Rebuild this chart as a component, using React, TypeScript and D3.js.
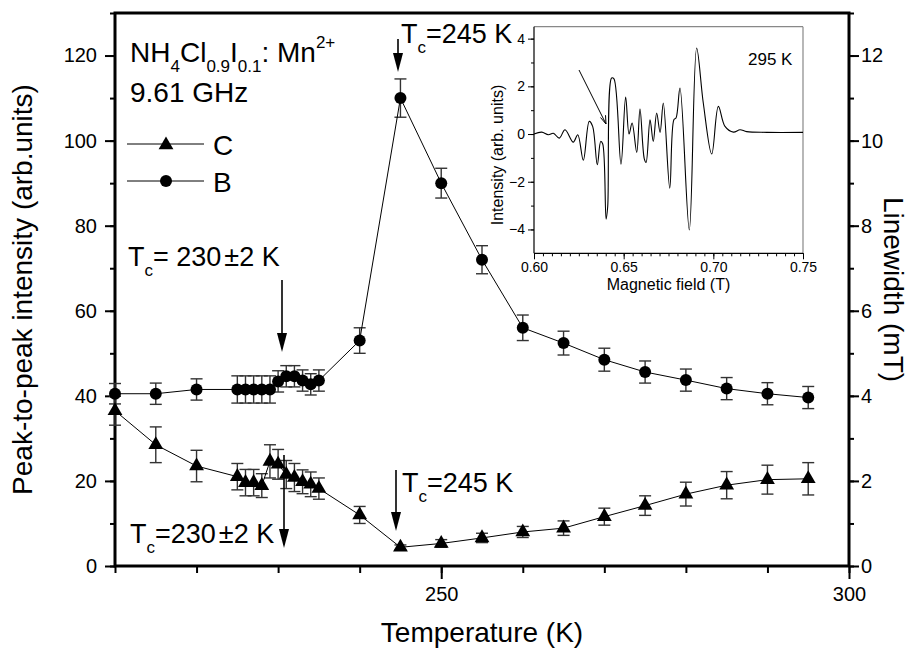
import React, { useEffect, useRef } from 'react';
import * as d3 from 'd3';

// temperatures (K), same grid for both series
const temps = [210, 215, 220, 225, 226, 227, 228, 229, 230, 231, 232, 233, 234, 235, 240, 245, 250, 255, 260, 265, 270, 275, 280, 285, 290, 295];

// B line (circles)
const intB = [40.5, 40.5, 41.5, 41.5, 41.5, 41.5, 41.5, 41.5, 43.4, 44.6, 44.6, 43.6, 42.7, 43.6, 53, 110, 90, 72, 56, 52.4, 48.5, 45.6, 43.7, 41.7, 40.5, 39.6];
const errB = [2.4, 2.5, 2.5, 3.2, 3.2, 3.2, 3.2, 3.2, 2.5, 2.5, 2.5, 2.5, 2.5, 2.5, 3, 4.5, 3.5, 3.3, 3, 2.8, 2.7, 2.6, 2.6, 2.6, 2.6, 2.6];

// C line (triangles)
const intC = [36.5, 28.5, 23.5, 21, 19.6, 19.6, 18.9, 24.6, 23.9, 21.5, 20.8, 19.8, 19.2, 18.2, 12, 4.4, 5.3, 6.6, 8.0, 8.9, 11.6, 14.2, 16.9, 19, 20.3, 20.5];
const errC = [3.4, 4.2, 3.7, 3.1, 3.1, 3.1, 2.8, 3.9, 3.5, 3.3, 3.3, 2.8, 2.9, 2.5, 2, 0.55, 0.9, 1.1, 1.3, 1.7, 2, 2.3, 2.8, 3.2, 3.4, 3.8];

// inset spectrum at 295 K
const field = [0.600, 0.6043, 0.608, 0.6108, 0.6141, 0.6173, 0.6219, 0.6244, 0.6275, 0.6308, 0.6327, 0.6353, 0.6372, 0.6383, 0.6402, 0.6411, 0.6433, 0.6446, 0.6485, 0.6511, 0.653, 0.6547, 0.6573, 0.6591, 0.6615, 0.6625, 0.6647, 0.6665, 0.6684, 0.6703, 0.6721, 0.6757, 0.678, 0.6792, 0.6814, 0.6866, 0.6907, 0.6944, 0.6991, 0.7028, 0.7065, 0.7112, 0.7149, 0.7186, 0.73, 0.75];
const spectrum = [0, 0.08, -0.03, 0.03, -0.17, 0.18, -0.34, -0.03, -1.1, 0.53, 0.32, -1.29, -0.31, -0.41, -3.57, -3.04, 2.35, 2.31, -1.26, 1.55, 0, 0.46, -0.77, 1.05, -1.04, -1.19, 0.6, -0.31, 0.88, 0.07, 1.3, -2.27, 0.6, 0.67, 1.93, -4.02, 3.61, 1.3, -0.84, 1.16, 0.32, 0.08, 0.18, 0.1, 0.07, 0.07];

const xMajor = [250, 300];
const yMajor = [0, 20, 40, 60, 80, 100, 120];
const rMajor = [0, 2, 4, 6, 8, 10, 12];
const insetXMajor = [0.60, 0.65, 0.70, 0.75];
const insetYMajor = [-4, -2, 0, 2, 4];

const W = 915, H = 649;
const FONT = '"Liberation Sans", Arial, Helvetica, sans-serif';

const App = () => {
  const svgRef = useRef(null);

  useEffect(() => {
    const svg = d3.select(svgRef.current);
    svg.selectAll('*').remove();
    const margin = { top: 13, right: 66, bottom: 83, left: 115 };

    const x = d3.scaleLinear().domain([210, 300]).range([margin.left, W - margin.right]);
    const y = d3.scaleLinear().domain([0, 130]).range([H - margin.bottom, margin.top]);
    const yR = d3.scaleLinear().domain([0, 13]).range([H - margin.bottom, margin.top]);

    svg.append('rect').attr('width', W).attr('height', H).attr('fill', 'white');

    const styleAxis = (g, sw) => {
      g.select('.domain').remove();
      g.selectAll('line').attr('stroke', '#000').attr('stroke-width', sw);
      g.selectAll('text').attr('font-family', FONT).attr('fill', '#000');
    };

    // bottom axis
    svg.append('g').attr('transform', `translate(0,${y(0)})`)
      .call(d3.axisBottom(x).tickValues(d3.range(210, 301, 10)).tickSize(7).tickFormat(() => ''))
      .call(g => styleAxis(g, 2));
    svg.append('g').attr('transform', `translate(0,${y(0)})`)
      .call(d3.axisBottom(x).tickValues(xMajor).tickSize(13).tickPadding(8).tickFormat(d3.format('d')))
      .call(g => styleAxis(g, 2))
      .selectAll('text').attr('font-size', 20);

    // left axis
    svg.append('g').attr('transform', `translate(${x(210)},0)`)
      .call(d3.axisLeft(y).tickValues(d3.range(0, 131, 10)).tickSize(5).tickFormat(() => ''))
      .call(g => styleAxis(g, 2));
    svg.append('g').attr('transform', `translate(${x(210)},0)`)
      .call(d3.axisLeft(y).tickValues(yMajor).tickSize(10).tickPadding(8).tickFormat(d3.format('d')))
      .call(g => styleAxis(g, 2))
      .selectAll('text').attr('font-size', 20);

    // right axis
    svg.append('g').attr('transform', `translate(${x(300)},0)`)
      .call(d3.axisRight(yR).tickValues(d3.range(0, 14, 1)).tickSize(5).tickFormat(() => ''))
      .call(g => styleAxis(g, 2));
    svg.append('g').attr('transform', `translate(${x(300)},0)`)
      .call(d3.axisRight(yR).tickValues(rMajor).tickSize(10).tickPadding(2).tickFormat(d3.format('d')))
      .call(g => styleAxis(g, 2))
      .selectAll('text').attr('font-size', 20);

    // frame
    svg.append('rect')
      .attr('x', x(210)).attr('y', y(130))
      .attr('width', x(300) - x(210)).attr('height', y(0) - y(130))
      .attr('fill', 'none').attr('stroke', '#000').attr('stroke-width', 3);

    // axis titles
    svg.append('text').attr('x', (x(210) + x(300)) / 2).attr('y', 642)
      .attr('text-anchor', 'middle').attr('font-family', FONT).attr('font-size', 28)
      .text('Temperature (K)');
    svg.append('text').attr('transform', `translate(32,${(y(0) + y(130)) / 2}) rotate(-90)`)
      .attr('text-anchor', 'middle').attr('font-family', FONT).attr('font-size', 28)
      .text('Peak-to-peak intensity (arb.units)');
    svg.append('text').attr('transform', `translate(884,${(y(0) + y(130)) / 2}) rotate(90)`)
      .attr('text-anchor', 'middle').attr('font-family', FONT).attr('font-size', 28)
      .text('Linewidth (mT)');

    // error bars
    const drawErr = (vals, errs) => {
      const g = svg.append('g').attr('stroke', '#333').attr('stroke-width', 1.4);
      temps.forEach((t, i) => {
        const cx = x(t), lo = y(vals[i] - errs[i]), hi = y(vals[i] + errs[i]);
        g.append('line').attr('x1', cx).attr('x2', cx).attr('y1', lo).attr('y2', hi);
        g.append('line').attr('x1', cx - 6).attr('x2', cx + 6).attr('y1', lo).attr('y2', lo);
        g.append('line').attr('x1', cx - 6).attr('x2', cx + 6).attr('y1', hi).attr('y2', hi);
      });
    };
    drawErr(intB, errB);
    drawErr(intC, errC);

    const line = d3.line().x(d => x(d[0])).y(d => y(d[1]));
    svg.append('path').datum(temps.map((t, i) => [t, intB[i]]))
      .attr('d', line).attr('fill', 'none').attr('stroke', '#000').attr('stroke-width', 1);
    svg.append('path').datum(temps.map((t, i) => [t, intC[i]]))
      .attr('d', line).attr('fill', 'none').attr('stroke', '#000').attr('stroke-width', 1);

    svg.selectAll('circle.b').data(temps).enter().append('circle')
      .attr('class', 'b')
      .attr('cx', d => x(d)).attr('cy', (d, i) => y(intB[i])).attr('r', 6).attr('fill', '#000');

    const tri = d3.symbol(d3.symbolTriangle, 95);
    svg.selectAll('path.c').data(temps).enter().append('path')
      .attr('class', 'c')
      .attr('d', tri)
      .attr('transform', (d, i) => `translate(${x(d)},${y(intC[i])})`)
      .attr('fill', '#000');

    // text with sub/superscripts
    const richText = (px, py, parts, size) => {
      const t = svg.append('text').attr('x', px).attr('y', py)
        .attr('font-family', FONT).attr('font-size', size).attr('fill', '#000');
      let shift = 0;
      parts.forEach(p => {
        const target = p.sub ? 10 : p.sup ? -14 : 0;
        t.append('tspan')
          .attr('dy', target - shift)
          .attr('dx', p.dx || 0)
          .attr('font-size', p.sub || p.sup ? 17 : size)
          .text(p.t);
        shift = target;
      });
    };

    richText(130, 62, [
      { t: 'NH' }, { t: '4', sub: true }, { t: 'Cl' }, { t: '0.9', sub: true },
      { t: 'I' }, { t: '0.1', sub: true }, { t: ': Mn' }, { t: '2+', sup: true },
    ], 28);
    richText(130, 102, [{ t: '9.61 GHz' }], 28);

    // legend
    const lg = svg.append('g');
    lg.append('line').attr('x1', 127).attr('x2', 204).attr('y1', 144).attr('y2', 144).attr('stroke', '#000');
    lg.append('path').attr('d', tri).attr('transform', 'translate(166,145)').attr('fill', '#000');
    lg.append('text').attr('x', 213).attr('y', 155).attr('font-family', FONT).attr('font-size', 28).text('C');
    lg.append('line').attr('x1', 127).attr('x2', 204).attr('y1', 181).attr('y2', 181).attr('stroke', '#000');
    lg.append('circle').attr('cx', 166).attr('cy', 181).attr('r', 6).attr('fill', '#000');
    lg.append('text').attr('x', 213).attr('y', 192).attr('font-family', FONT).attr('font-size', 28).text('B');

    // Tc annotations
    richText(401, 43, [{ t: 'T' }, { t: 'c', sub: true }, { t: '=245 K' }], 27);
    richText(128, 266, [{ t: 'T' }, { t: 'c', sub: true }, { t: '= 230' }, { t: '±2 K', dx: 3 }], 27);
    richText(402, 492, [{ t: 'T' }, { t: 'c', sub: true }, { t: '=245 K' }], 27);
    richText(130, 543, [{ t: 'T' }, { t: 'c', sub: true }, { t: '=230' }, { t: '±2 K', dx: 3 }], 27);

    const arrowDown = (ax, y1, y2) => {
      svg.append('line').attr('x1', ax).attr('x2', ax).attr('y1', y1).attr('y2', y2 - 12)
        .attr('stroke', '#000').attr('stroke-width', 1.6);
      svg.append('path')
        .attr('d', `M${ax - 5},${y2 - 19} L${ax + 5},${y2 - 19} L${ax},${y2} Z`)
        .attr('fill', '#000');
    };
    arrowDown(398, 39, 72);
    arrowDown(282, 280, 352);
    arrowDown(396, 470, 531);
    arrowDown(284, 455, 548);

    // inset
    const ix = d3.scaleLinear().domain([0.6, 0.75]).range([534, 803]);
    const iy = d3.scaleLinear().domain([-5, 4.5]).range([253.3, 26.7]);
    const inset = svg.append('g');
    inset.append('rect').attr('x', ix(0.6)).attr('y', iy(4.5))
      .attr('width', ix(0.75) - ix(0.6)).attr('height', iy(-5) - iy(4.5)).attr('fill', 'white');
    inset.append('line').attr('x1', ix(0.6)).attr('x2', ix(0.75)).attr('y1', iy(4.5)).attr('y2', iy(4.5))
      .attr('stroke', '#888').attr('stroke-width', 1.2);
    inset.append('line').attr('x1', ix(0.75)).attr('x2', ix(0.75)).attr('y1', iy(4.5)).attr('y2', iy(-5))
      .attr('stroke', '#888').attr('stroke-width', 1.2);
    inset.append('line').attr('x1', ix(0.6)).attr('x2', ix(0.6)).attr('y1', iy(4.5)).attr('y2', iy(-5))
      .attr('stroke', '#000').attr('stroke-width', 1.2);
    inset.append('line').attr('x1', ix(0.6)).attr('x2', ix(0.75)).attr('y1', iy(-5)).attr('y2', iy(-5))
      .attr('stroke', '#000').attr('stroke-width', 1.2);

    inset.append('g').attr('transform', `translate(0,${iy(-5)})`)
      .call(d3.axisBottom(ix).tickValues(d3.range(0, 31).map(i => 0.6 + i * 0.005)).tickSize(3).tickFormat(() => ''))
      .call(g => styleAxis(g, 1));
    inset.append('g').attr('transform', `translate(0,${iy(-5)})`)
      .call(d3.axisBottom(ix).tickValues(insetXMajor).tickSize(6).tickPadding(3).tickFormat(d3.format('.2f')))
      .call(g => styleAxis(g, 1))
      .selectAll('text').attr('font-size', 14);
    inset.append('g').attr('transform', `translate(${ix(0.6)},0)`)
      .call(d3.axisLeft(iy).tickValues(d3.range(-4, 5, 1)).tickSize(3).tickFormat(() => ''))
      .call(g => styleAxis(g, 1));
    inset.append('g').attr('transform', `translate(${ix(0.6)},0)`)
      .call(d3.axisLeft(iy).tickValues(insetYMajor).tickSize(6).tickPadding(3).tickFormat(d3.format('d')))
      .call(g => styleAxis(g, 1))
      .selectAll('text').attr('font-size', 14);

    inset.append('path').datum(field.map((f, i) => [f, spectrum[i]]))
      .attr('d', d3.line().x(d => ix(d[0])).y(d => iy(d[1])).curve(d3.curveCatmullRom.alpha(0.5)))
      .attr('fill', 'none').attr('stroke', '#000').attr('stroke-width', 1.1);

    inset.append('text').attr('x', (ix(0.6) + ix(0.75)) / 2).attr('y', 290)
      .attr('text-anchor', 'middle').attr('font-family', FONT).attr('font-size', 16)
      .text('Magnetic field (T)');
    inset.append('text').attr('transform', `translate(503,155) rotate(-90)`)
      .attr('text-anchor', 'middle').attr('font-family', FONT).attr('font-size', 16)
      .text('Intensity (arb. units)');
    inset.append('text').attr('x', 748).attr('y', 65)
      .attr('font-family', FONT).attr('font-size', 17).text('295 K');

    // inset arrow
    inset.append('line').attr('x1', 579).attr('y1', 70).attr('x2', 606).attr('y2', 124)
      .attr('stroke', '#000').attr('stroke-width', 1);
    inset.append('path').attr('d', 'M600.5,117.5 L606,124 L605.5,115.2')
      .attr('fill', 'none').attr('stroke', '#000').attr('stroke-width', 1);
  }, []);

  return (
    <svg ref={svgRef} width={W} height={H} style={{ position: 'absolute', left: 0, top: 0 }}></svg>
  );
};

export default App;
